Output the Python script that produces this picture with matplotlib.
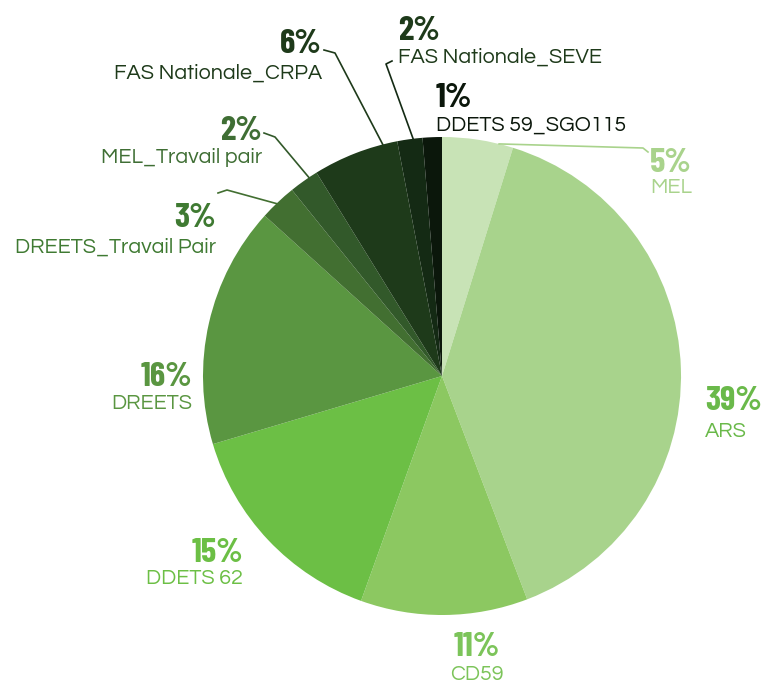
import numpy as np
import matplotlib.pyplot as plt

# slices, clockwise from 12 o'clock
names = ['MEL', 'ARS', 'CD59', 'DDETS 62', 'DREETS', 'DREETS_Travail Pair',
         'MEL_Travail pair', 'FAS Nationale_CRPA', 'FAS Nationale_SEVE', 'DDETS 59_SGO115']
shares = [4.8, 39.4, 11.3, 14.9, 16.3, 2.5, 2.0, 5.8, 1.7, 1.3]
pct_labels = ['5%', '39%', '11%', '15%', '16%', '3%', '2%', '6%', '2%', '1%']

slice_colors = ['#c8e3b6', '#a8d38c', '#8cc861', '#6cbf45', '#5a9641',
                '#426f31', '#32592a', '#1e3a1a', '#142a14', '#0b170b']
text_colors = ['#a9d38c', '#6ab94a', '#7cc45a', '#6cbf45', '#5a9641',
               '#3f7a32', '#3f6e34', '#1e3a1a', '#1e3a1a', '#0b170b']

# label layout in pixels: x, baseline of %, baseline of name, alignment
label_pos = [(650, 172, 193, 'left'), (705, 410, 437, 'left'), (477, 656, 680, 'center'),
             (243, 562, 584, 'right'), (192, 386, 409, 'right'), (216, 227, 253, 'right'),
             (262, 140, 163, 'right'), (322, 53, 79, 'right'), (398, 40, 63, 'left'),
             (436, 107, 131, 'left')]
# leader lines: where on the slice they start (fraction of its angle) and their bends
leaders = {0: (0.8, [(643, 148), (648, 152)]),
           5: (0.45, [(227, 190), (218, 193)]),
           6: (0.7, [(275, 137), (264, 133)]),
           7: (0.83, [(335, 53), (324, 50)]),
           8: (0.63, [(386, 64), (392, 61)])}

W, H = 763, 687
fig = plt.figure(figsize=(W / 100, H / 100), dpi=100)
ax = fig.add_axes([0, 0, 1, 1])

cx, cy, R = 442, 376, 239
# y axis is flipped below, so counterclock=True turns clockwise on screen
ax.pie(shares, colors=slice_colors, startangle=-90, counterclock=True,
       center=(cx, cy), radius=R, wedgeprops=dict(linewidth=0))
ax.set_xlim(0, W)
ax.set_ylim(H, 0)
ax.set_aspect('equal')
ax.axis('off')

pct_font = dict(family=['Barlow Condensed', 'DejaVu Sans'], weight=700, size=25)
name_font = dict(family=['Questrial', 'DejaVu Sans'], size=15.5)

cum = np.concatenate([[0], np.cumsum(shares)]) / sum(shares)
for i, name in enumerate(names):
    x, yp, yn, ha = label_pos[i]
    ax.text(x, yp, pct_labels[i], color=text_colors[i], ha=ha, va='baseline', **pct_font)
    ax.text(x, yn, name, color=text_colors[i], ha=ha, va='baseline', **name_font)
    if i in leaders:
        frac, bends = leaders[i]
        theta = np.deg2rad(-90 + 360 * (cum[i] + frac * (cum[i + 1] - cum[i])))
        pts = [(cx + R * np.cos(theta), cy + R * np.sin(theta))] + bends
        xs, ys = zip(*pts)
        ax.plot(xs, ys, color=slice_colors[i] if i else '#a9d38c', lw=1.2)

plt.savefig('out.png', dpi=100)
